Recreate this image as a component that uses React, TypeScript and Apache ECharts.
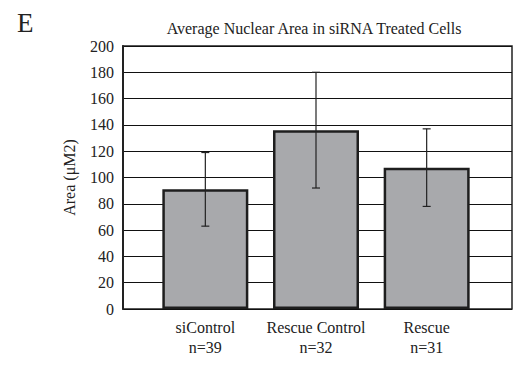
import React, { useEffect, useRef } from "react";
import * as echarts from "echarts";

const categories = ["siControl", "Rescue Control", "Rescue"];
const sampleSizes = ["n=39", "n=32", "n=31"];
const meanArea = [91, 136, 107.5];
const errLow = [63, 92, 78];
const errHigh = [119, 180, 137];
const yTicks = { min: 0, max: 200, interval: 20 };

const FONT = "'Liberation Serif', 'DejaVu Serif', serif";

export default function App() {
  const ref = useRef<HTMLDivElement>(null);
  useEffect(() => {
    const chart = echarts.init(ref.current!, null, { renderer: "svg" });
    const errData = categories.map((_, i) => [i, errLow[i], errHigh[i]]);
    chart.setOption({
      animation: false,
      backgroundColor: "#ffffff",
      title: [
        {
          text: "Average Nuclear Area in siRNA Treated Cells",
          left: 309,
          top: 15,
          textAlign: "center",
          textStyle: { fontFamily: FONT, fontSize: 16, fontWeight: "normal", color: "#222" },
        },
        {
          text: "E",
          left: 12,
          top: 4,
          textStyle: { fontFamily: FONT, fontSize: 27, fontWeight: "normal", color: "#222" },
        },
      ],
      grid: [
        { left: 150, top: 46, width: 332, height: 263, show: false },
        { left: 123, top: 46, width: 389, height: 263, show: true, borderColor: "#222", borderWidth: 1.5, backgroundColor: "transparent" },
      ],
      xAxis: [
        {
          gridIndex: 0,
          type: "category",
          data: categories.map((c, i) => c + "\n" + sampleSizes[i]),
          axisLine: { show: false },
          axisTick: { show: false },
          axisLabel: { fontFamily: FONT, fontSize: 16, color: "#222", lineHeight: 20, margin: 8, interval: 0 },
        },
        {
          gridIndex: 1,
          type: "value",
          min: 0,
          max: 1,
          show: false,
        },
      ],
      yAxis: [
        {
          gridIndex: 0,
          type: "value",
          min: yTicks.min,
          max: yTicks.max,
          interval: yTicks.interval,
          show: false,
        },
        {
          gridIndex: 1,
          type: "value",
          min: yTicks.min,
          max: yTicks.max,
          interval: yTicks.interval,
          name: "Area (\u03bcM2)",
          nameLocation: "middle",
          nameGap: 46,
          nameTextStyle: { fontFamily: FONT, fontSize: 16, color: "#222" },
          axisLine: { show: true, lineStyle: { color: "#222", width: 2 } },
          axisTick: { show: false },
          axisLabel: { fontFamily: FONT, fontSize: 16, color: "#222", margin: 9 },
          splitLine: { show: true, lineStyle: { color: "#111", width: 1.2 } },
        },
      ],
      series: [
        {
          type: "bar",
          xAxisIndex: 0,
          yAxisIndex: 0,
          data: meanArea,
          barWidth: 86,
          itemStyle: { color: "#a8a9ac", borderColor: "#1e1e1e", borderWidth: 2.5 },
          z: 3,
        },
        {
          type: "custom",
          xAxisIndex: 0,
          yAxisIndex: 0,
          data: errData,
          z: 5,
          renderItem: (params: any, api: any) => {
            const x = api.value(0);
            const lo = api.coord([x, api.value(1)]);
            const hi = api.coord([x, api.value(2)]);
            const cap = 4;
            const style = { stroke: "#222", lineWidth: 1.2 };
            return {
              type: "group",
              children: [
                { type: "line", shape: { x1: hi[0], y1: hi[1], x2: lo[0], y2: lo[1] }, style },
                { type: "line", shape: { x1: hi[0] - cap, y1: hi[1], x2: hi[0] + cap, y2: hi[1] }, style },
                { type: "line", shape: { x1: lo[0] - cap, y1: lo[1], x2: lo[0] + cap, y2: lo[1] }, style },
              ],
            };
          },
        },
      ],
    });
    return () => chart.dispose();
  }, []);
  return <div ref={ref} style={{ position: "fixed", left: 0, top: 0, width: 515, height: 367 }} />;
}
